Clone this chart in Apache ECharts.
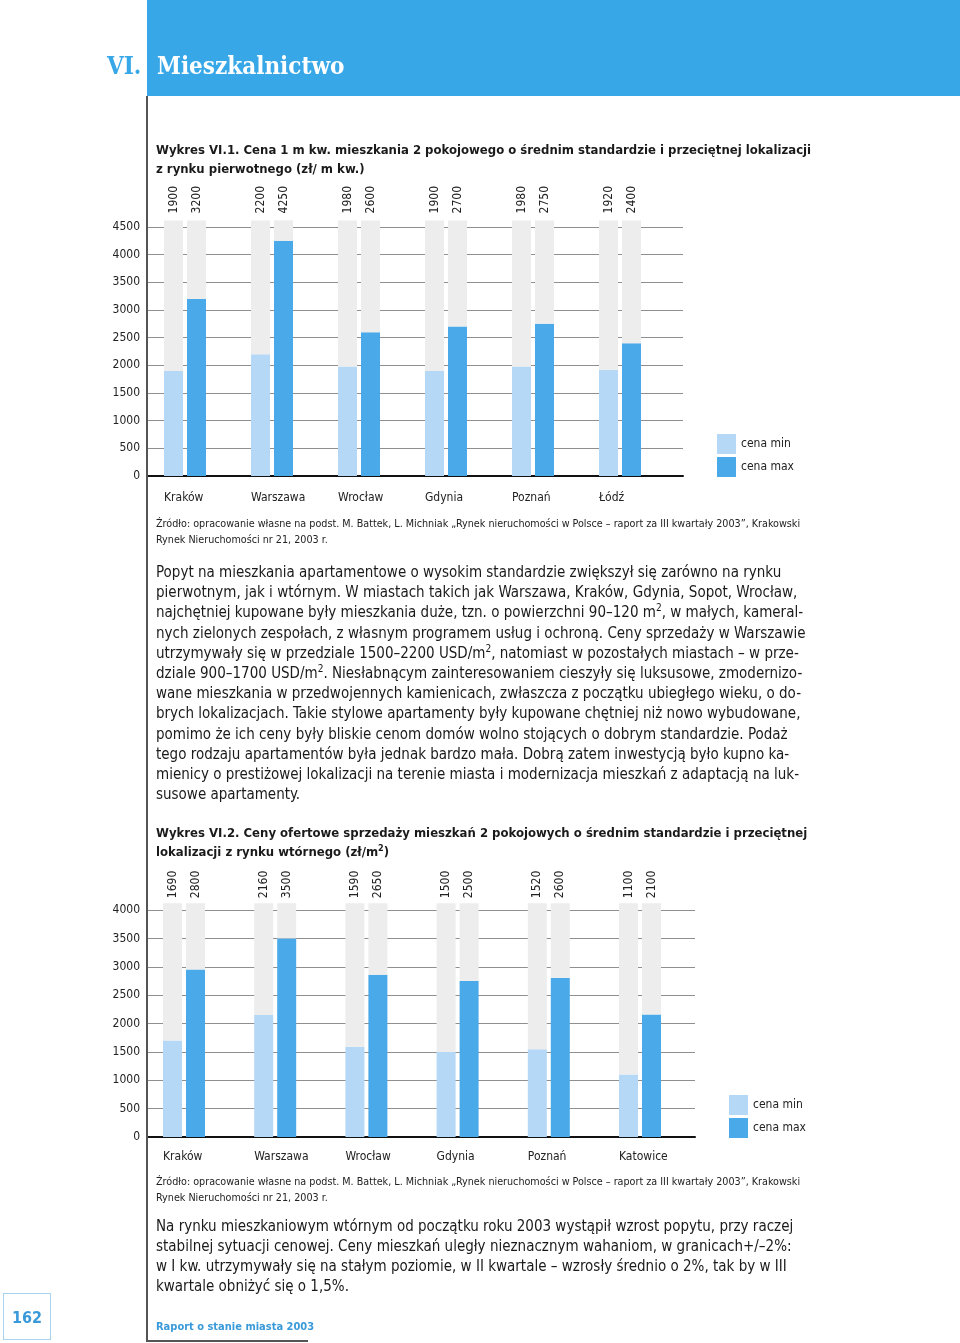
<!DOCTYPE html>
<html>
<head>
<meta charset="utf-8">
<script src="https://cdn.jsdelivr.net/npm/echarts@6/dist/echarts.min.js"></script>
<style>
  html, body { margin: 0; padding: 0; background: #fff; }
  body { width: 960px; height: 1343px; position: relative; overflow: hidden;
         font-family: "DejaVu Sans Condensed", "DejaVu Sans", sans-serif; font-stretch: condensed; color: #1a1a1a; }
  #chart { position: absolute; left: 0; top: 0; width: 960px; height: 1343px; }
  .t { position: absolute; white-space: nowrap; z-index: 2; }
  .hdr { position: absolute; left: 147px; top: 0; width: 813px; height: 96px; background: #38a7e8; z-index: 1; }
  .vline { position: absolute; left: 146px; top: 96px; width: 1.5px; height: 1245px; background: #555; z-index: 1; }
  .hline { position: absolute; left: 146px; top: 1340px; width: 162px; height: 1.5px; background: #555; z-index: 1; }
  .title { font-family: "DejaVu Serif Condensed", "DejaVu Serif", serif; font-weight: bold; font-size: 24px; }
  .ctitle { font-weight: bold; font-size: 13px; line-height: 18.5px; left: 156px; }
  .src { font-size: 10.7px; line-height: 16px; left: 156px; color: #222; }
  .body { font-size: 15px; line-height: 20.2px; left: 156px; color: #1a1a1a; }
  .pg { position: absolute; left: 3px; top: 1293px; width: 46px; height: 45px; border: 1.5px solid #a8d4f2;
        color: #3a9ad9; font-weight: bold; font-size: 16px; text-align: center; line-height: 47px; z-index: 2; }
  .foot { left: 156px; top: 1320px; font-size: 11px; color: #3a9ad9; font-weight: bold; }
</style>
</head>
<body>
<div class="hdr"></div>
<div class="vline"></div>
<div class="hline"></div>
<div class="t title" style="left:107px; top:51px; color:#38a7e8;">VI.</div>
<div class="t title" style="left:157px; top:51px; color:#fff;">Mieszkalnictwo</div>

<div class="t ctitle" style="top:141px;">Wykres VI.1. Cena 1 m kw. mieszkania 2 pokojowego o średnim standardzie i przeciętnej lokalizacji<br>z rynku pierwotnego (zł/ m kw.)</div>

<div class="t src" style="top:516px;">Źródło: opracowanie własne na podst. M. Battek, L. Michniak „Rynek nieruchomości w Polsce – raport za III kwartały 2003”, Krakowski<br>Rynek Nieruchomości nr 21, 2003 r.</div>

<div class="t body" style="top:562px;">Popyt na mieszkania apartamentowe o wysokim standardzie zwiększył się zarówno na rynku<br>pierwotnym, jak i wtórnym. W miastach takich jak Warszawa, Kraków, Gdynia, Sopot, Wrocław,<br>najchętniej kupowane były mieszkania duże, tzn. o powierzchni 90–120 m<sup style="font-size:10px;line-height:0">2</sup>, w małych, kameral-<br>nych zielonych zespołach, z własnym programem usług i ochroną. Ceny sprzedaży w Warszawie<br>utrzymywały się w przedziale 1500–2200 USD/m<sup style="font-size:10px;line-height:0">2</sup>, natomiast w pozostałych miastach – w prze-<br>dziale 900–1700 USD/m<sup style="font-size:10px;line-height:0">2</sup>. Niesłabnącym zainteresowaniem cieszyły się luksusowe, zmodernizo-<br>wane mieszkania w przedwojennych kamienicach, zwłaszcza z początku ubiegłego wieku, o do-<br>brych lokalizacjach. Takie stylowe apartamenty były kupowane chętniej niż nowo wybudowane,<br>pomimo że ich ceny były bliskie cenom domów wolno stojących o dobrym standardzie. Podaż<br>tego rodzaju apartamentów była jednak bardzo mała. Dobrą zatem inwestycją było kupno ka-<br>mienicy o prestiżowej lokalizacji na terenie miasta i modernizacja mieszkań z adaptacją na luk-<br>susowe apartamenty.</div>

<div class="t ctitle" style="top:824px;">Wykres VI.2. Ceny ofertowe sprzedaży mieszkań 2 pokojowych o średnim standardzie i przeciętnej<br>lokalizacji z rynku wtórnego (zł/m<sup style="font-size:9px;line-height:0">2</sup>)</div>

<div class="t src" style="top:1174px;">Źródło: opracowanie własne na podst. M. Battek, L. Michniak „Rynek nieruchomości w Polsce – raport za III kwartały 2003”, Krakowski<br>Rynek Nieruchomości nr 21, 2003 r.</div>

<div class="t body" style="top:1216px; line-height:20px;">Na rynku mieszkaniowym wtórnym od początku roku 2003 wystąpił wzrost popytu, przy raczej<br>stabilnej sytuacji cenowej. Ceny mieszkań uległy nieznacznym wahaniom, w granicach+/–2%:<br>w I kw. utrzymywały się na stałym poziomie, w II kwartale – wzrosły średnio o 2%, tak by w III<br>kwartale obniżyć się o 1,5%.</div>

<div class="pg">162</div>
<div class="t foot">Raport o stanie miasta 2003</div>

<div id="chart"></div>
<script>
// ---- data: chart VI.1 (primary market) ----
const cities1 = ['Kraków', 'Warszawa', 'Wrocław', 'Gdynia', 'Poznań', 'Łódź'];
const min1 = [1900, 2200, 1980, 1900, 1980, 1920];
const max1 = [3200, 4250, 2600, 2700, 2750, 2400];
const minLabels1 = ['1900', '2200', '1980', '1900', '1980', '1920'];
const maxLabels1 = ['3200', '4250', '2600', '2700', '2750', '2400'];
const yStep1 = 500;
const yLast1 = 4500;

// ---- data: chart VI.2 (secondary market) ----
const cities2 = ['Kraków', 'Warszawa', 'Wrocław', 'Gdynia', 'Poznań', 'Katowice'];
const min2 = [1700, 2150, 1590, 1500, 1545, 1100];
const max2 = [2950, 3500, 2860, 2750, 2800, 2160];
const minLabels2 = ['1690', '2160', '1590', '1500', '1520', '1100'];
const maxLabels2 = ['2800', '3500', '2650', '2500', '2600', '2100'];
const yStep2 = 500;
const yLast2 = 4000;

const legendNames = ['cena min', 'cena max'];

// ---- styling ----
const C_MIN = '#b4d8f6', C_MAX = '#4aa9e9', C_BG = '#ededed', C_GRID = '#8f8f8f';
const FONT = '"DejaVu Sans Condensed", "DejaVu Sans", sans-serif';
const TOP1 = 4620, TOP2 = 4120; // height of the grey backdrop columns

const chart = echarts.init(document.getElementById('chart'), null, { renderer: 'canvas' });

function block(idx, cfg) {
  const g = idx * 3;
  const grids = [
    { left: cfg.lineLeft, top: cfg.top, width: cfg.lineWidth, height: cfg.height },
    { left: cfg.barLeft, top: cfg.top, width: cfg.barWidthAll, height: cfg.height },
    { left: cfg.barLeft - cfg.labShift, top: cfg.top, width: cfg.barWidthAll, height: cfg.height }
  ];
  const xAxes = [
    { gridIndex: g, type: 'category', data: [''], axisLine: { show: true, lineStyle: { color: '#111', width: 2 } },
      axisTick: { show: false }, axisLabel: { show: false } },
    { gridIndex: g + 1, type: 'category', data: cfg.cities, axisLine: { show: false }, axisTick: { show: false },
      axisLabel: { show: false } },
    { gridIndex: g + 2, type: 'category', data: cfg.cities, axisLine: { show: false }, axisTick: { show: false },
      axisLabel: { show: true, align: 'left', margin: cfg.labMargin, fontFamily: FONT, fontSize: 12, color: '#222' } }
  ];
  const yAxes = [
    { gridIndex: g, type: 'value', min: 0, max: cfg.topVal, interval: cfg.step,
      axisLine: { show: false }, axisTick: { show: false },
      axisLabel: { showMaxLabel: false, margin: 7, fontFamily: FONT, fontSize: 12, color: '#222',
        formatter: v => (v <= cfg.last ? String(v) : '') },
      splitLine: { show: true, showMaxLine: false, lineStyle: { color: C_GRID, width: 1 } } },
    { gridIndex: g + 1, type: 'value', min: 0, max: cfg.topVal, show: false, splitLine: { show: false } },
    { gridIndex: g + 2, type: 'value', min: 0, max: cfg.topVal, show: false, splitLine: { show: false } }
  ];
  const common = { type: 'bar', xAxisIndex: g + 1, yAxisIndex: g + 1, barWidth: 19, barGap: '21%', clip: false };
  const topLabel = arr => ({ show: true, position: 'top', distance: cfg.labDist, rotate: 90, align: 'left',
    verticalAlign: 'middle', fontFamily: FONT, fontSize: 12, color: '#222',
    formatter: p => arr[p.dataIndex] });
  const series = [
    Object.assign({}, common, { name: legendNames[0], stack: 'mn' + idx, data: cfg.min, itemStyle: { color: C_MIN } }),
    Object.assign({}, common, { name: legendNames[1], stack: 'mx' + idx, data: cfg.max, itemStyle: { color: C_MAX } }),
    Object.assign({}, common, { name: 'bg' + idx + 'a', stack: 'mn' + idx, data: cfg.min.map(v => cfg.topVal - v),
      itemStyle: { color: C_BG }, label: topLabel(cfg.minLabels), silent: true }),
    Object.assign({}, common, { name: 'bg' + idx + 'b', stack: 'mx' + idx, data: cfg.max.map(v => cfg.topVal - v),
      itemStyle: { color: C_BG }, label: topLabel(cfg.maxLabels), silent: true })
  ];
  const legend = { data: legendNames, orient: 'vertical', left: cfg.legLeft, top: cfg.legTop, padding: 0,
    itemWidth: 19, itemHeight: 20, itemGap: 3, icon: 'rect', selectedMode: false,
    textStyle: { fontFamily: FONT, fontSize: 12, color: '#222', padding: [0, 0, 0, 0] } };
  return { grids, xAxes, yAxes, series, legend };
}

const b1 = block(0, {
  cities: cities1, min: min1, max: max1, minLabels: minLabels1, maxLabels: maxLabels1,
  step: yStep1, last: yLast1, topVal: TOP1,
  lineLeft: 147, lineWidth: 536, barLeft: 141.5, barWidthAll: 522, labShift: 21,
  top: 476 - 255.6, height: 255.6, labMargin: 16, labDist: 7, legLeft: 717, legTop: 434
});
const b2 = block(1, {
  cities: cities2, min: min2, max: max2, minLabels: minLabels2, maxLabels: maxLabels2,
  step: yStep2, last: yLast2, topVal: TOP2,
  lineLeft: 147, lineWidth: 548, barLeft: 138.4, barWidthAll: 547.2, labShift: 21,
  top: 1137 - 233.8, height: 233.8, labMargin: 14, labDist: 5, legLeft: 729, legTop: 1095
});

chart.setOption({
  animation: false,
  grid: b1.grids.concat(b2.grids),
  xAxis: b1.xAxes.concat(b2.xAxes),
  yAxis: b1.yAxes.concat(b2.yAxes),
  series: b1.series.concat(b2.series),
  legend: [b1.legend, b2.legend]
});
</script>
</body>
</html>
